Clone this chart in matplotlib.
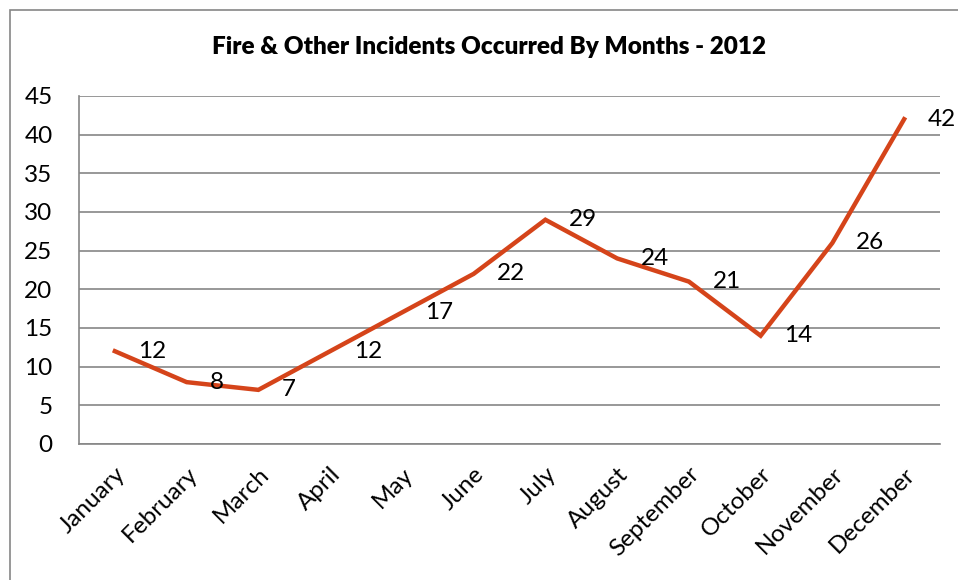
import matplotlib
matplotlib.use('Agg')
import matplotlib.pyplot as plt
from matplotlib.patches import Rectangle

# datos
months = ['January', 'February', 'March', 'April', 'May', 'June', 'July',
          'August', 'September', 'October', 'November', 'December']
incidents = [12, 8, 7, 12, 17, 22, 29, 24, 21, 14, 26, 42]
y_ticks = [0, 5, 10, 15, 20, 25, 30, 35, 40, 45]

plt.rcParams['font.family'] = ['Lato', 'DejaVu Sans']

W, H = 958, 580
fig = plt.figure(figsize=(W / 100, H / 100), dpi=100)
ax = fig.add_axes([79 / W, 1 - 444 / H, (940 - 79) / W, (444 - 96) / H])

# borde del gráfico (estilo Excel)
fig.patches.append(Rectangle((10 / W, -0.1), 1.2, 1 - 10 / H + 0.1,
                             transform=fig.transFigure, fill=False,
                             edgecolor='#868686', linewidth=1.2))

x = list(range(len(months)))
ax.plot(x, incidents, color='#D5441A', linewidth=3.2, solid_joinstyle='miter')

for xi, v in zip(x, incidents):
    ax.annotate(str(v), (xi, v), xytext=(17, 0), textcoords='offset points',
                ha='left', va='center', fontsize=17.5)

ax.set_xlim(-0.5, len(months) - 0.5)
ax.set_ylim(0, 45)
ax.set_yticks(y_ticks)
ax.set_xticks(x)
ax.set_xticklabels(months, rotation=45, ha='right', va='top',
                   rotation_mode='anchor', fontsize=17.5)
ax.tick_params(axis='y', labelsize=17.5, length=0, pad=19)
ax.tick_params(axis='x', length=0, pad=14)
ax.grid(axis='y', color='#868686', linewidth=1.2)
ax.set_axisbelow(True)
for s in ['top', 'right']:
    ax.spines[s].set_visible(False)
for s in ['left', 'bottom']:
    ax.spines[s].set_color('#868686')
    ax.spines[s].set_linewidth(1.2)

fig.text(489 / W, 1 - 47 / H, 'Fire & Other Incidents Occurred By Months - 2012',
         ha='center', va='center', fontsize=17.5, fontweight='heavy')

fig.savefig('out.png', dpi=100)
